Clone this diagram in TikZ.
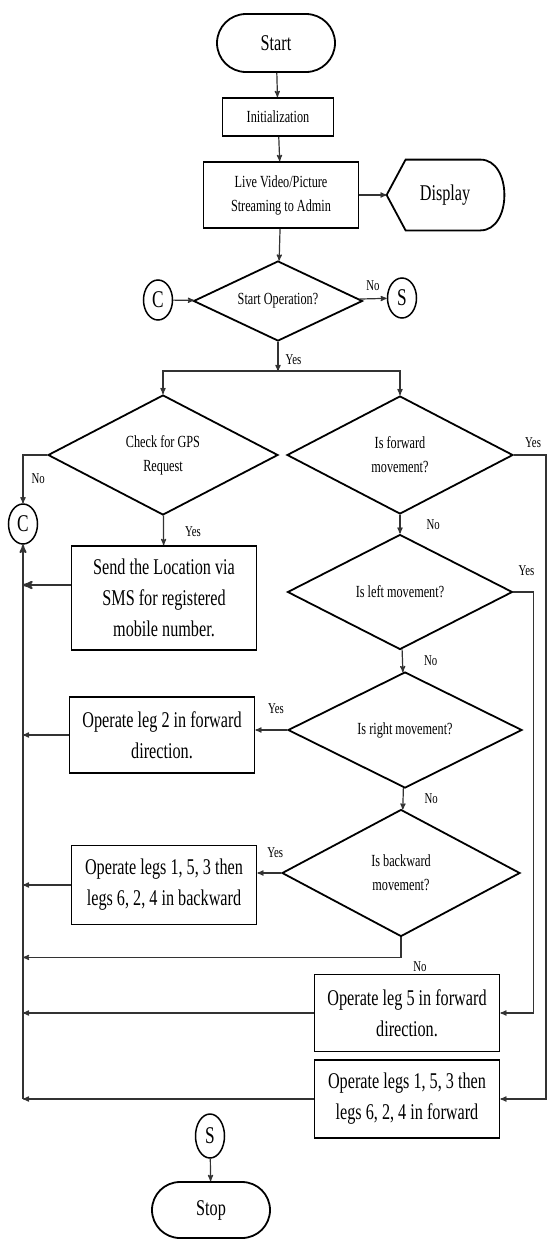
\documentclass[tikz,border=0pt]{standalone}
\usepackage{fontspec}
\setmainfont{Liberation Serif}[FakeStretch=0.72]
\usetikzlibrary{arrows,shapes.geometric,shapes.misc}

\begin{document}
\begin{tikzpicture}[x=1pt,y=-1pt,>=stealth',thick]
\tikzset{ShapeStyle/.style = {draw,line width=1.8pt,inner sep=0pt,align=center},
         SmallText/.style  = {font=\fontsize{17}{24}\selectfont},
         BigText/.style    = {font=\fontsize{22.5}{31}\selectfont},
         TermStyle/.style  = {ShapeStyle,BigText,rounded rectangle,
                              minimum width=118pt,minimum height=58pt},
         ProcStyle/.style  = {ShapeStyle,BigText,rectangle,minimum width=185pt},
         DecStyle/.style   = {ShapeStyle,SmallText,diamond,aspect=2},
         ConnStyle/.style  = {draw,line width=1.5pt,ellipse,inner sep=0pt,
                              minimum width=29pt,minimum height=40pt,
                              font=\fontsize{24}{24}\selectfont},
         LinkStyle/.style  = {->,line width=1.2pt,draw=black!80},
         LabelStyle/.style = {inner sep=1pt,font=\fontsize{15}{15}\selectfont}}
\useasboundingbox (0,0) rectangle (547,1240);

\node[TermStyle] (start) at (276,43) {Start};
\node[ShapeStyle,SmallText,minimum width=111pt,minimum height=38pt] (init) at (278,117) {Initialization};
\node[ShapeStyle,SmallText,minimum width=155pt,minimum height=66pt] (live) at (281,195) {Live Video/Picture\\Streaming to Admin};
\node[BigText,minimum width=116pt,minimum height=70pt,inner sep=0pt] (display) at (445,195) {Display};
\draw[line width=1.8pt] (display.west) -- ([xshift=19pt]display.north west)
   -- ([xshift=-23pt]display.north east)
   .. controls ([xshift=9pt]display.north east) and ([xshift=9pt]display.south east) .. ([xshift=-23pt]display.south east)
   -- ([xshift=19pt]display.south west) -- cycle;

\node[DecStyle,minimum width=169pt,minimum height=80pt] (startop) at (278,301) {Start Operation?};
\node[ConnStyle] (cTop) at (158,300) {C};
\node[ConnStyle] (sTop) at (402,298) {S};

\node[DecStyle,minimum width=230pt,minimum height=120pt] (gps) at (163,455) {Check for GPS\\Request};
\node[DecStyle,minimum width=226pt,minimum height=118pt] (fwd) at (400,455) {Is forward\\movement?};
\node[ConnStyle] (cLow) at (23,524) {C};
\node[ProcStyle,minimum height=104pt] (send) at (164,598) {Send the Location via\\SMS for registered\\mobile number.};

\node[DecStyle,minimum width=225pt,minimum height=115pt] (left) at (400,592) {Is left movement?};
\node[DecStyle,minimum width=234pt,minimum height=116pt] (right) at (405,730) {Is right movement?};
\node[ProcStyle,minimum height=76pt] (leg2) at (162,735) {Operate leg 2 in forward\\direction.};
\node[DecStyle,minimum width=238pt,minimum height=127pt] (back) at (401,873) {Is backward\\movement?};
\node[ProcStyle,minimum height=79pt] (backbox) at (164,885) {Operate legs 1, 5, 3 then\\legs 6, 2, 4 in backward};
\node[ProcStyle,minimum height=77pt] (leg5) at (407,1013) {Operate leg 5 in forward\\direction.};
\node[ProcStyle,minimum height=78pt] (fwdbox) at (407,1099) {Operate legs 1, 5, 3 then\\legs 6, 2, 4 in forward};

\node[ConnStyle,minimum height=44pt] (sLow) at (210,1136) {S};
\node[TermStyle,minimum height=56pt] (stop) at (211,1210) {Stop};

\draw[LinkStyle] (start) -- (init);
\draw[LinkStyle] (init) -- (live);
\draw[LinkStyle] (live) -- (startop);
\draw[LinkStyle] (live) -- (display);
\draw[LinkStyle] (cTop) -- (startop);
\draw[LinkStyle] (startop) -- node[LabelStyle,above=6pt] {No} (sTop);

\coordinate (fork) at (278,371);
\draw[LinkStyle] (startop) -- node[LabelStyle,right=6pt,pos=.6] {Yes} (fork);
\draw[LinkStyle] (fork) -| (gps);
\draw[LinkStyle] (fork) -| (fwd);

\draw[LinkStyle] (gps.west) -| node[LabelStyle,right=7pt,pos=.75] {No} (cLow);
\draw[LinkStyle] (gps) -- node[LabelStyle,right=20pt,pos=.55] {Yes} (send);
\draw[LinkStyle] (fwd.east) -- node[LabelStyle,above=6pt,pos=.6] {Yes} ++(32,0) |- (fwdbox.east);
\draw[LinkStyle] (fwd) -- node[LabelStyle,right=25pt] {No} (left);
\draw[LinkStyle] (left.east) -- node[LabelStyle,above=15pt,pos=.65] {Yes} ++(20,0) |- (leg5.east);
\draw[LinkStyle] (left) -- node[LabelStyle,right=20pt] {No} (right);
\draw[LinkStyle] (right.west) -- node[LabelStyle,above=15pt,pos=.35] {Yes} (right.west -| leg2.east);
\draw[LinkStyle] (right) -- node[LabelStyle,right=20pt] {No} (back);
\draw[LinkStyle] (back.west) -- node[LabelStyle,above=14pt,pos=.25] {Yes} (back.west -| backbox.east);

\coordinate (backno) at ([yshift=-20pt]back.south);
\draw[LinkStyle] (back.south) -- (backno) -- (backno -| cLow);
\node[LabelStyle] (backlbl) at (420,967) {No};

\coordinate (sendout) at ([yshift=13pt]send.west);
\draw[LinkStyle,line width=2.2pt] (sendout) -- (sendout -| cLow);
\draw[LinkStyle] (leg2.west) -- (leg2.west -| cLow);
\draw[LinkStyle] (backbox.west) -- (backbox.west -| cLow);
\draw[LinkStyle] (leg5.west) -- (leg5.west -| cLow);
\draw[LinkStyle] (fwdbox.west) -- (fwdbox.west -| cLow);
\draw[LinkStyle,line width=1.8pt] (fwdbox.west -| cLow) -- (cLow);

\draw[LinkStyle] (sLow) -- (stop);
\end{tikzpicture}
\end{document}
